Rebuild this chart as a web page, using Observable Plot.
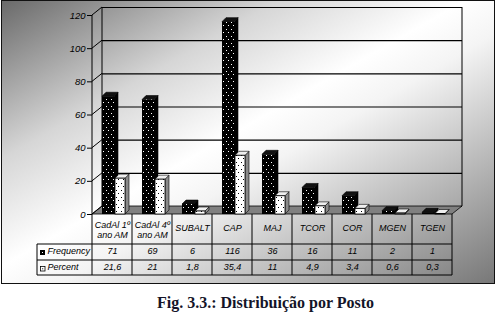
<!DOCTYPE html>
<html><head><meta charset="utf-8">
<script src="https://cdn.jsdelivr.net/npm/d3@7"></script>
<script src="https://cdn.jsdelivr.net/npm/@observablehq/plot@0.6"></script>
<style>
html,body{margin:0;padding:0;background:#fff;}
#wrap{position:relative;width:496px;height:317px;overflow:hidden;}
#frame{position:absolute;left:1px;top:0;width:494px;height:284px;box-sizing:border-box;border:1.5px solid #111;
  background:linear-gradient(to bottom right,#6a6a6a 0%,#d6d6d6 28%,#ffffff 47%,#f4f4f4 56%,#787878 100%);}
#chart{position:absolute;left:0;top:0;}
#caption{position:absolute;left:157px;top:295px;font:bold 16px "Liberation Serif","Times New Roman",serif;line-height:16px;color:#141428;white-space:nowrap;}
</style></head>
<body><div id="wrap"><div id="frame"></div><div id="chart"></div><div id="caption">Fig. 3.3.: Distribuição por Posto</div></div>
<script>
const categories = ["CadAl 1º\nano AM","CadAl 4º\nano AM","SUBALT","CAP","MAJ","TCOR","COR","MGEN","TGEN"];
const frequency = [71,69,6,116,36,16,11,2,1];
const percent = [21.6,21,1.8,35.4,11,4.9,3.4,0.6,0.3];
const seriesNames = ["Frequency","Percent"];
const yTicks = [0,20,40,60,80,100,120];

const W=496,H=285,mL=92,mR=44,mT=15,mB=71;
const DX=10, DY=-8;      // back wall offset
const BD=4;              // bar depth
const font = "'Liberation Sans', Arial, sans-serif";
const freqRows = categories.map((c,i)=>({cat:c,value:frequency[i],label:String(frequency[i])}));
const pctRows = categories.map((c,i)=>({cat:c,value:percent[i],label:String(percent[i]).replace(".",",")}));
const FI=[10,18], PI=[23,7]; // insets left/right
const twoLine = categories.filter(c=>c.includes("\n"));
const oneLine = categories.filter(c=>!c.includes("\n"));

const plot = Plot.plot({
  width:W,height:H,marginLeft:mL,marginRight:mR,marginTop:mT,marginBottom:mB,
  style:{fontFamily:font,fontSize:"9px",fontStyle:"italic",background:"transparent",overflow:"visible",color:"#000"},
  x:{domain:categories,padding:0,axis:null},
  y:{domain:[0,120],axis:null},
  marks:[
    Plot.ruleY(yTicks,{dx:DX,dy:DY,stroke:"#000",strokeWidth:1.1}),
    Plot.axisY({ticks:yTicks,tickSize:5,tickPadding:2,tickFormat:d=>String(d),fontStyle:"italic",label:null,fontSize:9.5}),
    Plot.barY(freqRows,{x:"cat",y:"value",insetLeft:FI[0],insetRight:FI[1],fill:"url(#dotsBlack)"}),
    Plot.barY(pctRows,{x:"cat",y:"value",insetLeft:PI[0],insetRight:PI[1],fill:"url(#dotsWhite)",stroke:"#000",strokeWidth:0.8}),
    Plot.text(twoLine,{x:d=>d,frameAnchor:"bottom",lineAnchor:"top",dy:6,lineHeight:1.12}),
    Plot.text(oneLine,{x:d=>d,frameAnchor:"bottom",dy:16}),
    Plot.text(freqRows,{x:"cat",text:"label",frameAnchor:"bottom",dy:39.5}),
    Plot.text(pctRows,{x:"cat",text:"label",frameAnchor:"bottom",dy:55.5}),
    Plot.text([seriesNames[0]],{frameAnchor:"bottom-left",dx:-45,dy:39.5,textAnchor:"start"}),
    Plot.text([seriesNames[1]],{frameAnchor:"bottom-left",dx:-45,dy:55.5,textAnchor:"start"})
  ]
});
document.getElementById("chart").appendChild(plot);

const svg = d3.select(plot);
const sx = plot.scale("x"), sy = plot.scale("y");
const x0 = sx.range[0], x1 = sx.range[1], step = (x1-x0)/categories.length;
const y0 = sy.apply(0), yTop = sy.apply(120);

// patterns
const defs = svg.insert("defs",":first-child");
function pattern(id,bg,fg){
  const p = defs.append("pattern").attr("id",id).attr("patternUnits","userSpaceOnUse").attr("width",5).attr("height",7);
  p.append("rect").attr("width",5).attr("height",7).attr("fill",bg);
  p.append("rect").attr("x",1).attr("y",1).attr("width",1).attr("height",1).attr("fill",fg);
  p.append("rect").attr("x",3).attr("y",4).attr("width",1).attr("height",1).attr("fill",fg);
}
pattern("dotsBlack","#000","#fff");
pattern("dotsWhite","#fff","#000");

const bars = svg.selectAll('g[aria-label="bar"]').nodes();
const pts = a => a.map(p=>p.join(",")).join(" ");

// walls & floor
const g0 = svg.insert("g", () => bars[0]).attr("fill","none").attr("stroke","#000");
g0.append("polygon").attr("points",pts([[x0,y0],[x1,y0],[x1+DX,y0+DY],[x0+DX,y0+DY]]))
  .attr("fill","#808080").attr("stroke-width",0.8);
g0.append("line").attr("x1",x0).attr("x2",x0).attr("y1",yTop).attr("y2",y0);
g0.append("line").attr("x1",x0+DX).attr("x2",x0+DX).attr("y1",yTop+DY).attr("y2",y0+DY);
g0.append("line").attr("x1",x1+DX).attr("x2",x1+DX).attr("y1",yTop+DY).attr("y2",y0+DY);
yTicks.forEach(t=>{const y=sy.apply(t);
  g0.append("line").attr("x1",x0).attr("y1",y).attr("x2",x0+DX).attr("y2",y+DY);});

function depth(rows, ins, before, sideFill, topFill){
  const g = svg.insert("g", () => before).attr("stroke","#000").attr("stroke-width",0.6);
  rows.forEach(d=>{
    const xl=sx.apply(d.cat)+ins[0], xr=sx.apply(d.cat)+step-ins[1], yt=sy.apply(d.value), yb=y0;
    g.append("polygon").attr("points",pts([[xr,yb],[xr+BD,yb-BD],[xr+BD,yt-BD],[xr,yt]])).attr("fill",sideFill);
    g.append("polygon").attr("points",pts([[xl,yt],[xl+BD,yt-BD],[xr+BD,yt-BD],[xr,yt]])).attr("fill",topFill);
  });
}
depth(freqRows, FI, bars[0], "#000", "#111");
depth(pctRows, PI, bars[1], "#8a8a8a", "#eeeeee");

// data table lines
const tl = svg.append("g").attr("stroke","#000").attr("stroke-width",1);
const rowY = [y0, 244, 260, 275], hdrX = 37;
for(let i=0;i<=categories.length;i++){const x=x0+i*step;
  tl.append("line").attr("x1",x).attr("x2",x).attr("y1",y0).attr("y2",rowY[3]);}
tl.append("line").attr("x1",hdrX).attr("x2",hdrX).attr("y1",rowY[1]).attr("y2",rowY[3]);
[rowY[1],rowY[2],rowY[3]].forEach(y=>tl.append("line").attr("x1",hdrX).attr("x2",x1).attr("y1",y).attr("y2",y));
// legend keys
const kx = hdrX+3;
svg.append("rect").attr("x",kx).attr("y",250).attr("width",5).attr("height",5).attr("fill","#000");
svg.append("rect").attr("x",kx+2).attr("y",252).attr("width",1).attr("height",1).attr("fill","#fff");
svg.append("rect").attr("x",kx+0.5).attr("y",266.5).attr("width",4.5).attr("height",4.5).attr("fill","#fff").attr("stroke","#000").attr("stroke-width",0.8);
svg.append("rect").attr("x",kx+2.2).attr("y",268.3).attr("width",1).attr("height",1).attr("fill","#000");
</script>
</body></html>
